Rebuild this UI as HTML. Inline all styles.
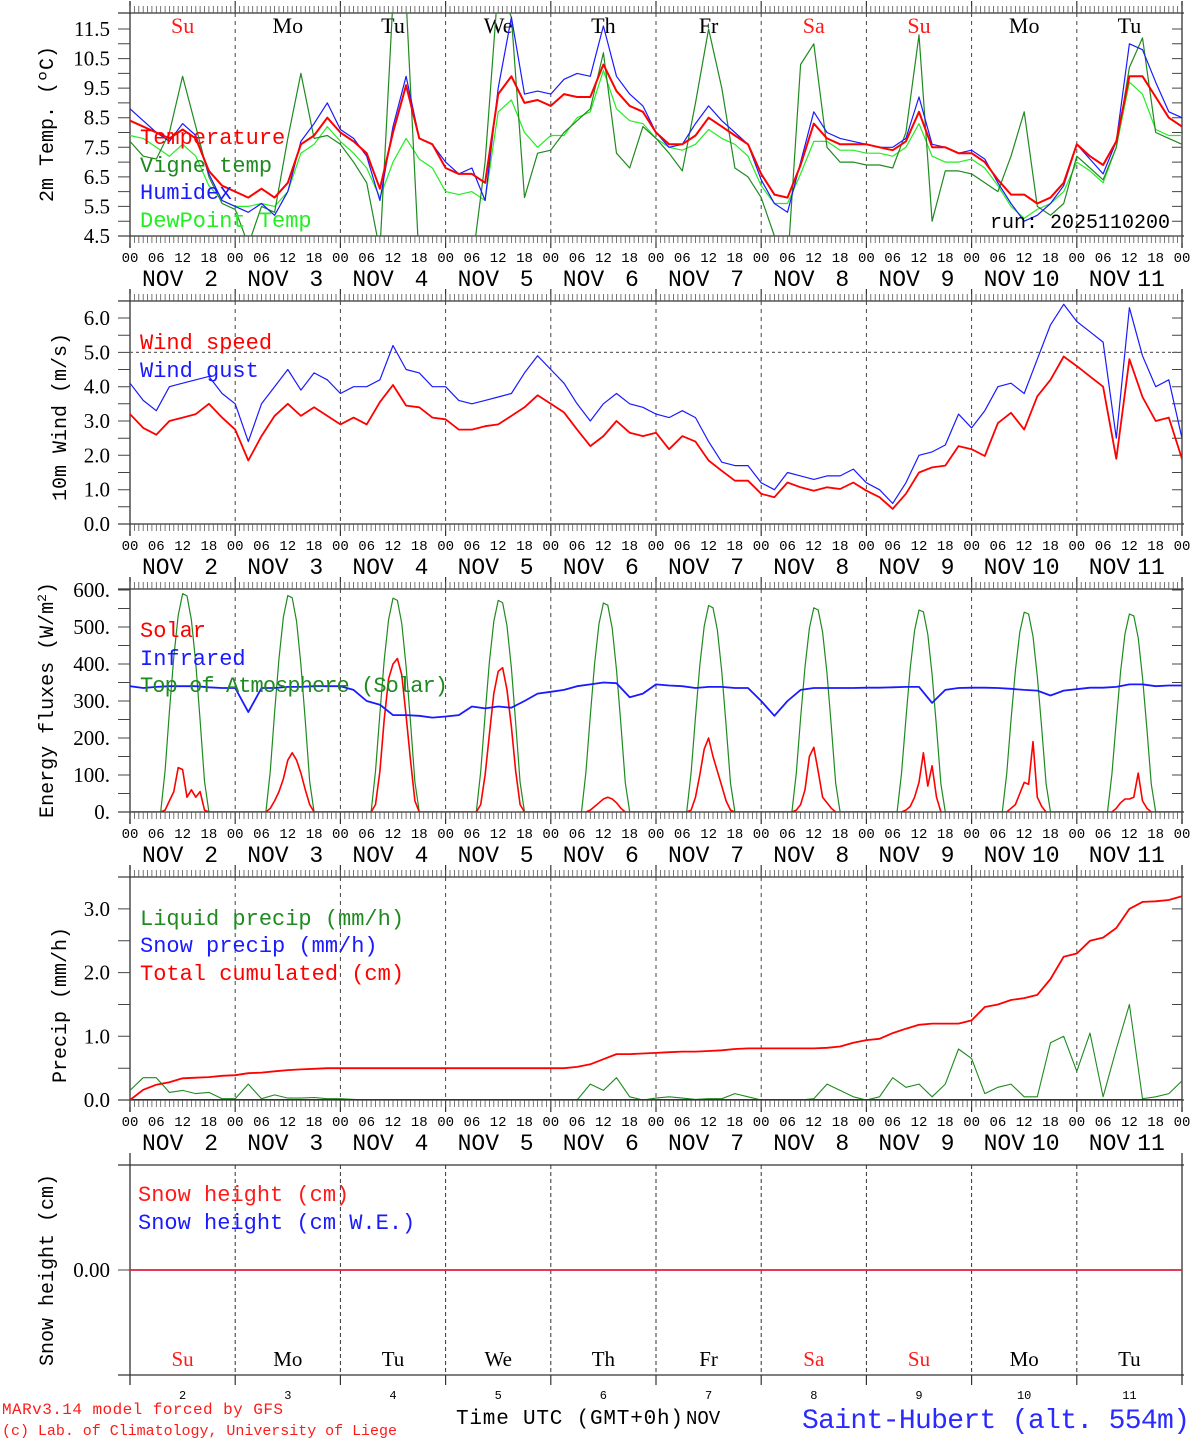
<!DOCTYPE html>
<html><head><meta charset="utf-8">
<style>
html,body{margin:0;padding:0;background:#fff;}
svg{display:block;font-family:"Liberation Mono","DejaVu Sans Mono",monospace;}
.ser{font-family:"Liberation Serif","DejaVu Serif",serif;}
</style></head>
<body>
<svg id="chart" width="1194" height="1440" viewBox="0 0 1194 1440" xmlns="http://www.w3.org/2000/svg">
<rect width="1194" height="1440" fill="#fff"/>
</svg>
<script>
// ---------- DATA (3-hourly, from 2 Nov 00 UTC) ----------
const dayNames = ["Su","Mo","Tu","We","Th","Fr","Sa","Su","Mo","Tu"];
const dayNums = ["2","3","4","5","6","7","8","9","10","11"];
const hourTicks = ["00","06","12","18"];
const tempTicks = [4.5,5.5,6.5,7.5,8.5,9.5,10.5,11.5];
const windTicks = [0,1,2,3,4,5,6];
const fluxTicks = [0,100,200,300,400,500,600];
const precipTicks = [0,1,2,3];

const temperature = [8.4,8.2,8.0,7.8,8.1,7.8,6.7,6.2, 6.0,5.8,6.1,5.8,6.3,7.6,7.9,8.5, 8.0,7.7,7.3,6.1,8.0,9.6,7.8,7.6, 6.8,6.6,6.6,6.3,9.3,9.9,9.0,9.1, 8.9,9.3,9.2,9.2,10.3,9.4,8.9,8.7, 8.0,7.6,7.6,7.9,8.5,8.2,7.9,7.6, 6.6,5.9,5.8,6.9,8.3,7.8,7.6,7.6, 7.6,7.5,7.4,7.7,8.7,7.5,7.5,7.3, 7.3,7.0,6.4,5.9,5.9,5.6,5.8,6.3, 7.6,7.2,6.9,7.7,9.9,9.9,9.2,8.5, 8.2];
const humidex = [8.8,8.4,8.0,7.7,8.3,7.9,6.6,5.7, 5.5,5.3,5.6,5.2,6.0,7.7,8.3,9.0, 8.1,7.8,7.2,5.7,8.2,9.9,7.8,7.6, 7.0,6.6,6.8,5.7,9.5,11.9,9.3,9.4, 9.3,9.8,10.0,9.9,11.6,9.9,9.3,8.9, 8.0,7.5,7.6,8.3,8.9,8.4,8.0,7.6, 6.4,5.6,5.3,7.0,8.7,8.0,7.8,7.7, 7.6,7.5,7.5,7.8,9.2,7.6,7.5,7.3, 7.4,7.1,6.3,5.6,5.0,5.2,5.6,6.2, 7.6,7.1,6.6,7.7,11.0,10.8,9.7,8.7, 8.5];
const vigneTemp = [7.7,7.2,7.1,8.0,9.9,8.2,6.5,5.6, 5.4,4.2,5.5,5.3,7.8,10.0,7.8,7.9, 7.6,7.0,6.3,4.0,12.5,12.5,3.5,3.0, 3.5,3.5,3.5,7.0,13.0,11.9,5.8,7.3, 7.4,8.0,8.4,8.8,10.7,7.3,6.8,8.2, 7.8,7.3,6.7,9.0,11.5,9.5,6.8,6.5, 5.8,4.5,3.5,10.3,11.0,7.5,7.0,7.0, 6.9,6.9,6.8,8.0,11.3,5.0,6.7,6.7, 6.6,6.3,6.0,7.2,8.7,5.5,5.2,5.6, 7.2,6.8,6.4,7.5,10.2,11.2,8.0,7.8, 7.6];
const dewPoint = [7.9,7.8,7.5,7.2,7.6,7.2,6.2,5.7, 5.5,5.5,5.6,5.5,6.0,7.3,7.6,8.2, 7.7,7.3,6.8,5.8,7.0,7.8,7.1,6.8, 6.0,5.9,6.0,5.7,8.7,9.1,8.0,7.5, 7.9,7.9,8.5,8.7,10.1,8.8,8.4,8.3, 7.8,7.5,7.4,7.6,8.1,7.8,7.6,7.2, 6.2,5.6,5.6,6.6,7.7,7.7,7.4,7.4, 7.3,7.3,7.2,7.5,8.3,7.2,7.0,7.0, 7.1,6.8,6.2,5.5,5.1,5.4,5.6,6.0, 7.0,6.7,6.3,7.5,9.7,9.3,8.1,7.9, 7.9];

const windSpeed = [3.2,2.8,2.6,3.0,3.1,3.2,3.5,3.1, 2.75,1.85,2.56,3.15,3.5,3.15,3.4,3.15, 2.9,3.1,2.9,3.55,4.05,3.45,3.4,3.1, 3.05,2.75,2.75,2.85,2.9,3.15,3.4,3.75, 3.5,3.25,2.75,2.27,2.56,3.0,2.66,2.56, 2.66,2.18,2.56,2.4,1.85,1.55,1.26,1.26, 0.88,0.78,1.21,1.07,0.97,1.07,1.02,1.21, 0.97,0.78,0.44,0.88,1.5,1.65,1.7,2.27, 2.18,1.98,2.94,3.24,2.75,3.72,4.2,4.88, 4.6,4.3,4.0,1.9,4.8,3.7,3.0,3.1, 1.9];
const windGust = [4.1,3.6,3.3,4.0,4.1,4.2,4.3,3.8, 3.5,2.4,3.5,4.0,4.5,3.9,4.4,4.2, 3.8,4.0,4.0,4.2,5.2,4.5,4.4,4.0, 4.0,3.6,3.5,3.6,3.7,3.8,4.4,4.9, 4.5,4.1,3.5,3.0,3.5,3.8,3.5,3.4, 3.2,3.1,3.3,3.1,2.4,1.8,1.7,1.7, 1.2,1.0,1.5,1.4,1.3,1.4,1.4,1.6, 1.2,1.0,0.6,1.2,2.0,2.1,2.3,3.2, 2.8,3.3,4.0,4.1,3.8,4.8,5.8,6.4, 5.9,5.6,5.3,2.5,6.3,4.9,4.0,4.2, 2.5];

const infrared = [340,335,338,340,340,340,337,335, 335,270,335,335,338,338,340,340, 340,330,300,290,262,262,260,255, 258,262,285,280,285,282,300,320, 325,330,340,345,350,348,310,320, 345,342,340,335,338,338,335,335, 300,260,300,330,335,335,335,335, 336,336,337,338,338,295,330,335, 336,336,335,333,330,328,315,328, 332,336,336,338,345,345,340,342, 342];
// hourly, hours 07..18 of each day
const toaDaytime = [
 [0,112,271,419,531,590,584,519,401,248,83,0],
 [0,111,269,415,527,585,579,515,398,246,82,0],
 [0,110,266,410,520,578,572,509,393,243,81,0],
 [0,109,263,406,515,572,566,503,389,240,80,0],
 [0,107,260,401,509,565,559,497,384,237,79,0],
 [0,106,257,396,502,558,552,491,379,234,78,0],
 [0,105,254,392,497,552,546,486,375,232,77,0],
 [0,104,251,388,491,546,541,480,371,229,76,0],
 [0,103,248,383,486,540,535,475,367,227,76,0],
 [0,102,246,380,482,535,530,471,364,225,75,0]];
const solarDaytime = [
 [0,5,30,55,120,115,40,60,40,55,5,0],
 [0,10,30,55,90,140,160,140,105,60,20,0],
 [0,20,110,250,360,400,415,370,260,140,30,0],
 [0,20,100,210,320,380,390,330,230,110,20,0],
 [0,0,5,15,25,35,40,35,25,10,0,0],
 [0,5,40,100,170,200,150,110,70,30,5,0],
 [0,5,20,60,150,175,110,40,25,10,0,0],
 [0,0,5,15,40,80,160,70,125,40,0,0],
 [0,0,10,20,50,80,75,190,40,15,0,0],
 [0,0,10,25,35,35,40,105,30,10,0,0]];

const liquidPrecip = [0.15,0.35,0.35,0.12,0.15,0.1,0.12,0.02, 0.02,0.25,0.02,0.08,0.03,0.03,0.04,0.02, 0.02,0.01,0,0,0,0,0,0, 0,0,0,0,0,0,0,0, 0,0,0,0.25,0.15,0.35,0.05,0, 0.03,0.05,0.03,0.01,0.02,0.02,0.1,0.05, 0,0,0,0,0.02,0.25,0.15,0.05, 0,0.05,0.35,0.2,0.25,0.05,0.25,0.8, 0.65,0.1,0.2,0.25,0.05,0.05,0.9,1.0, 0.45,1.05,0.05,0.8,1.5,0.02,0.05,0.1, 0.3];
const snowPrecip = new Array(81).fill(0);
const cumulated = [0,0.16,0.24,0.28,0.34,0.35,0.36,0.38, 0.39,0.42,0.43,0.45,0.47,0.48,0.49,0.5, 0.5,0.5,0.5,0.5,0.5,0.5,0.5,0.5, 0.5,0.5,0.5,0.5,0.5,0.5,0.5,0.5, 0.5,0.5,0.52,0.56,0.64,0.72,0.72,0.73, 0.74,0.75,0.76,0.76,0.77,0.78,0.8,0.81, 0.81,0.81,0.81,0.81,0.81,0.82,0.84,0.9, 0.94,0.96,1.05,1.12,1.18,1.2,1.2,1.2, 1.25,1.46,1.5,1.57,1.6,1.65,1.9,2.25, 2.3,2.5,2.55,2.7,3.0,3.11,3.12,3.14, 3.2];
const snowHeight = [0,0];
const snowWE = [0,0];

// ---------- RENDER ----------
const NS = "http://www.w3.org/2000/svg";
const svg = document.getElementById("chart");
const X0 = 130, X1 = 1182;
function xH(h){ return X0 + h*(X1-X0)/240; }
function mk(tag, attrs, parent){
  const e = document.createElementNS(NS, tag);
  for (const k in attrs) e.setAttribute(k, attrs[k]);
  (parent||svg).appendChild(e); return e;
}
function txt(s, x, y, size, fill, anchor, parent){
  const t = mk("text", {x:x, y:y, "font-size":size, fill:fill||"#000", "text-anchor":anchor||"start"}, parent);
  t.textContent = s; return t;
}

const panels = [
  {id:"temp", top:13, bot:236, y:v=>236-(v-4.5)*29.571, ticks:tempTicks, fmt:v=>v.toFixed(1), minor:0.5, vmin:4.5, vmax:11.5},
  {id:"wind", top:301, bot:524, y:v=>524-v*34.33, ticks:windTicks, fmt:v=>v.toFixed(1), minor:0.5, vmin:0, vmax:6.5},
  {id:"flux", top:589, bot:812, y:v=>812-v*0.37, ticks:fluxTicks, fmt:v=>v+".", minor:50, vmin:0, vmax:600},
  {id:"precip", top:877, bot:1100, y:v=>1100-v*63.7, ticks:precipTicks, fmt:v=>v.toFixed(1), minor:0.5, vmin:0, vmax:3.5},
];

function drawFrame(p, idx){
  const g = mk("g", {});
  
  
  const cp = mk("clipPath", {id:"clip-"+p.id}, g);
  mk("rect", {x:X0, y:p.top, width:X1-X0, height:p.bot-p.top}, cp);
  mk("line",{x1:118,y1:p.top,x2:X1+2,y2:p.top,stroke:"#333","stroke-width":1.3},g);
  mk("line",{x1:118,y1:p.bot,x2:X1+2,y2:p.bot,stroke:"#333","stroke-width":1.3},g);
  mk("line",{x1:X0,y1:p.top-12,x2:X0,y2:p.bot+12,stroke:"#333","stroke-width":1.3},g);
  mk("line",{x1:X1,y1:p.top-12,x2:X1,y2:p.bot+12,stroke:"#333","stroke-width":1.3},g);
  for (let d=0; d<=10; d++){
    const x = xH(d*24);
    if (d>0 && d<10) mk("line",{x1:x,y1:p.top,x2:x,y2:p.bot,stroke:"#444","stroke-width":1,"stroke-dasharray":"4,4"},g);
    mk("line",{x1:x,y1:p.top-12,x2:x,y2:p.top,stroke:"#333","stroke-width":1.2},g);
    mk("line",{x1:x,y1:p.bot,x2:x,y2:p.bot+12,stroke:"#333","stroke-width":1.2},g);
  }
  let tk = "";
  for (let h=0; h<=240; h++){
    const x = xH(h).toFixed(1);
    tk += `M${x} ${p.top}V${p.top-7}M${x} ${p.bot}V${p.bot+7}`;
  }
  mk("path",{d:tk,stroke:"#555","stroke-width":0.8,fill:"none"},g);
  let yt = "";
  for (let v=p.vmin; v<=p.vmax+1e-9; v+=p.minor){
    const y = p.y(v).toFixed(1);
    if (y < p.top-0.5) continue;
    yt += `M118 ${y}H${X0}M${X1} ${y}H${X1-10}`;
  }
  mk("path",{d:yt,stroke:"#444","stroke-width":1,fill:"none"},g);
  p.ticks.forEach(v=>{
    const t = txt(p.fmt(v), 110, p.y(v)+7, 21, "#000", "end", g);
    t.setAttribute("class","ser");
    
    
  });
  for (let d=0; d<10; d++){
    hourTicks.forEach((s,i)=>{
      const t = txt(s, xH(d*24+i*6), p.bot+26, 14, "#000", "middle", g);
      
      
    });
    const n = txt("NOV", xH(d*24)+12, p.bot+50, 23, "#000", "start", g);
    
    
    const m = txt(dayNums[d], xH(d*24)+88, p.bot+50, 23, "#000", "end", g);
    
    
  }
  txt("00", xH(240), p.bot+26, 14, "#000", "middle", g);
  return g;
}

function series(p, vals, color, width, name, hourStep){
  const step = hourStep||3;
  let d = "";
  vals.forEach((v,i)=>{ d += (i?"L":"M") + xH(i*step).toFixed(1) + " " + p.y(v).toFixed(1); });
  const path = mk("path",{d:d, stroke:color, "stroke-width":width, fill:"none", "clip-path":"url(#clip-"+p.id+")", "stroke-linejoin":"round"});
  
  
  return path;
}
function hourlyFromDaytime(arr){
  const out = [];
  for (let d=0; d<10; d++) for (let h=0; h<24; h++) out.push(h>=7 && h<=18 ? arr[d][h-7] : 0);
  out.push(0);
  return out;
}
function legend(text, x, y, color, name){
  const t = txt(text, x, y, 22, color, "start");
  
  
  return t;
}
function ytitle(text, x, cy, name){
  const t = txt(text, 0, 0, 20, "#000", "middle");
  t.setAttribute("transform", `translate(${x},${cy}) rotate(-90)`);
  
  
}

panels.forEach(drawFrame);
const [P1,P2,P3,P4] = panels;

for (let d=0; d<10; d++){
  const c = (dayNames[d]==="Su"||dayNames[d]==="Sa") ? "#ff1a1a" : "#000";
  const t = txt(dayNames[d], xH(d*24+12), 33, 22, c, "middle");
  t.setAttribute("class","ser");
  
  
}
series(P1, dewPoint, "#22ee22", 1.2, "dewpoint-line");
series(P1, vigneTemp, "#1f8a1f", 1.2, "vigne-temp-line");
series(P1, humidex, "#1a1aff", 1.2, "humidex-line");
series(P1, temperature, "#ff0000", 2, "temperature-line");
legend("Temperature", 140, 144, "#ff0000", "legend-temperature");
legend("Vigne temp", 140, 172, "#1f8a1f", "legend-vigne-temp");
legend("Humidex", 140, 199, "#1a1aff", "legend-humidex");
legend("DewPoint Temp", 140, 227, "#22ee22", "legend-dewpoint");
const run = txt("run: 2025110200", 990, 228, 20, "#000", "start");


ytitle("2m Temp. (ºC)", 53, 124, "temp-y-axis-title");

const ref5 = mk("line",{x1:X0,y1:P2.y(5),x2:X1,y2:P2.y(5),stroke:"#666","stroke-width":1.2,"stroke-dasharray":"3,3"});


series(P2, windGust, "#1a1aff", 1.2, "wind-gust-line");
series(P2, windSpeed, "#ff0000", 1.8, "wind-speed-line");
legend("Wind speed", 140, 349, "#ff0000", "legend-wind-speed");
legend("Wind gust", 140, 377, "#1a1aff", "legend-wind-gust");
ytitle("10m Wind (m/s)", 66, 417, "wind-y-axis-title");

series(P3, hourlyFromDaytime(toaDaytime), "#1f8a1f", 1.2, "toa-solar-line", 1);
series(P3, hourlyFromDaytime(solarDaytime), "#ff0000", 1.6, "solar-line", 1);
series(P3, infrared, "#1a1aff", 1.8, "infrared-line");
legend("Solar", 140, 637, "#ff0000", "legend-solar");
legend("Infrared", 140, 665, "#1a1aff", "legend-infrared");
legend("Top of Atmosphere (Solar)", 140, 692, "#1f8a1f", "legend-toa").setAttribute("textLength","308");
{
  const t = txt("", 0, 0, 20, "#000", "middle");
  t.setAttribute("transform", "translate(53,700) rotate(-90)");
  t.innerHTML = 'Energy fluxes (W/m<tspan dy="-7" font-size="13">2</tspan><tspan dy="7">)</tspan>';
  
  
}

series(P4, liquidPrecip, "#1f8a1f", 1.1, "liquid-precip-line");
series(P4, snowPrecip, "#1a1aff", 2, "snow-precip-line");
series(P4, cumulated, "#ff0000", 1.8, "cumulated-precip-line");
legend("Liquid precip (mm/h)", 140, 925, "#1f8a1f", "legend-liquid-precip");
legend("Snow precip (mm/h)", 140, 952, "#1a1aff", "legend-snow-precip");
legend("Total cumulated (cm)", 140, 980, "#ff0000", "legend-cumulated");
ytitle("Precip (mm/h)", 66, 1005, "precip-y-axis-title");

{
  const g = mk("g", {});
  
  
  const top=1165, bot=1375, y0=1270;
  mk("line",{x1:118,y1:top,x2:X1+2,y2:top,stroke:"#333","stroke-width":1.3},g);
  mk("line",{x1:118,y1:bot,x2:X1+2,y2:bot,stroke:"#333","stroke-width":1.3},g);
  mk("line",{x1:X0,y1:top-12,x2:X0,y2:bot+10,stroke:"#333","stroke-width":1.3},g);
  mk("line",{x1:X1,y1:top-12,x2:X1,y2:bot+10,stroke:"#333","stroke-width":1.3},g);
  mk("line",{x1:118,y1:y0,x2:X0,y2:y0,stroke:"#444","stroke-width":1},g);
  for (let d=1; d<10; d++){
    const x = xH(d*24);
    mk("line",{x1:x,y1:top,x2:x,y2:bot,stroke:"#333","stroke-width":1,"stroke-dasharray":"4,3"},g);
    mk("line",{x1:x,y1:bot,x2:x,y2:bot+10,stroke:"#333","stroke-width":1.2},g);
  }
  const l = txt("0.00", 110, y0+7, 21, "#000", "end", g);
  l.setAttribute("class","ser");
  
  
  const sy = v=>y0 - v*50;
  const b = mk("line",{x1:X0,y1:sy(snowWE[0]),x2:X1,y2:sy(snowWE[1]),stroke:"#1a1aff","stroke-width":1.5},g);
  
  
  const r = mk("line",{x1:X0,y1:sy(snowHeight[0]),x2:X1,y2:sy(snowHeight[1]),stroke:"#ff2020","stroke-width":1.5},g);
  
  
  for (let d=0; d<10; d++){
    const c = (dayNames[d]==="Su"||dayNames[d]==="Sa") ? "#ff1a1a" : "#000";
    const t = txt(dayNames[d], xH(d*24+12), 1366, 21, c, "middle", g);
    t.setAttribute("class","ser");
    
    
    const n = txt(dayNums[d], xH(d*24+12), 1399, 12, "#000", "middle", g);
    
    
  }
  legend("Snow height (cm)", 138, 1201, "#ff1a1a", "legend-snow-height");
  legend("Snow height (cm W.E.)", 138, 1229, "#1a1aff", "legend-snow-we");
  ytitle("Snow height (cm)", 53, 1270, "snow-y-axis-title");
}

{
  const a = txt("MARv3.14 model forced by GFS", 2, 1414, 16, "#ff1a1a", "start");
  a.setAttribute("textLength", "281");
  
  
  const b = txt("(c) Lab. of Climatology, University of Liege", 2, 1435, 15, "#ff1a1a", "start");
  b.setAttribute("textLength", "395");
  
  
  const c = txt("Time UTC (GMT+0h)", 456, 1424, 21, "#000", "start");
  c.setAttribute("textLength", "227");
  
  
  const d = txt("NOV", 686, 1424, 19, "#000", "start");
  
  
  const e = txt("Saint-Hubert (alt. 554m)", 802, 1428, 28, "#2a2aff", "start");
  e.setAttribute("textLength", "388");
  
  
}
</script>
</body></html>
